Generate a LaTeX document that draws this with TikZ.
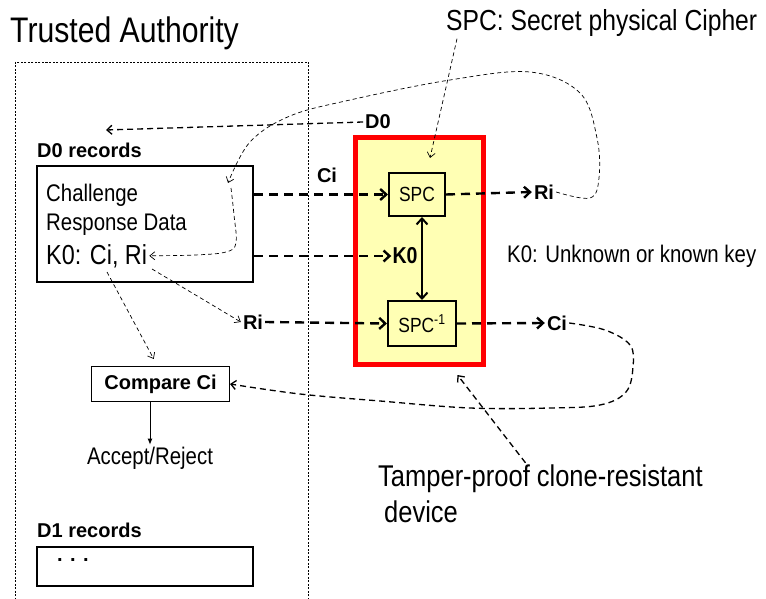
\documentclass[tikz,border=0pt]{standalone}
\usepackage{fontspec}
\setmainfont{Liberation Sans}
\newfontfamily\nar[FakeStretch=0.85]{Liberation Sans}
\usepackage{tikz}
\definecolor{pale}{RGB}{255, 255, 180}
\definecolor{rr}{RGB}{255, 0, 0}
\usetikzlibrary{arrows.meta}

\begin{document}
\begin{tikzpicture}
		[x=1pt,y=-1pt,
		nt/.style={font=\nar\fontsize{24}{29}\selectfont, inner sep=2pt},
		bt/.style={font=\bfseries\fontsize{20}{24}\selectfont, inner sep=2pt},
		box/.style={draw=black, line width=2pt, fill=pale, inner sep=0pt},
		big/.style={line width=2.4pt, dash pattern=on 9pt off 6pt, -{Straight Barb[length=6pt,width=11pt]}},
		mid/.style={line width=1.3pt, dash pattern=on 6pt off 4pt, -{Straight Barb[length=5pt,width=9pt]}},
		thinarr/.style={line width=0.7pt, dash pattern=on 4pt off 3pt, -{Straight Barb[length=5pt,width=8pt]}}]
		\useasboundingbox (0,0) rectangle (766,599);
		\draw [line width=0.8pt, dash pattern=on 2pt off 1.5pt] (15,62) rectangle (308,620);
		\node (1) [nt, font=\nar\fontsize{35.5}{42}\selectfont, anchor=west] at (8,33) {Trusted Authority};
		\node (2) [bt, anchor=west] at (35,150) {D0 records};
		\node (3) [box, fill=none, minimum width=216pt, minimum height=116pt] at (145,224) {};
		\node (4) [nt, anchor=base west] at (44,201) {Challenge};
		\node (5) [nt, anchor=base west] at (44,230) {Response Data};
		\node (6) [nt, font=\nar\fontsize{27.5}{33}\selectfont, anchor=base west] at (44,264) {K0: Ci, Ri};
		\node (9) [draw=rr, line width=5pt, fill=pale, minimum width=128pt, minimum height=227pt, inner sep=0pt] at (419.5,251) {};
		\node (7) [box, minimum width=56pt, minimum height=43pt, nt, font=\nar\fontsize{20.5}{24}\selectfont] at (417,194.5) {SPC};
		\node (8) [box, minimum width=68pt, minimum height=45pt, nt, font=\nar\fontsize{20.5}{24}\selectfont] at (422,323.5) {SPC\textsuperscript{-1}};
		\node (10) [nt, font=\nar\bfseries\fontsize{23}{28}\selectfont, inner sep=1pt] at (405,256) {K0};
		\node (11) [bt] at (327,175) {Ci};
		\node (12) [bt] at (544,192) {Ri};
		\node (13) [bt] at (557,323) {Ci};
		\node (14) [bt] at (253,322) {Ri};
		\node (15) [bt] at (378,122) {D0};
		\node (16) [nt, anchor=west] at (505,256) {K0: Unknown or known key};
		\node (17) [nt, font=\nar\fontsize{29}{35}\selectfont, anchor=west] at (444,23) {SPC: Secret physical Cipher};
		\node (18) [nt, font=\nar\fontsize{30}{36}\selectfont, align=left, anchor=west] at (376,494) {Tamper-proof clone-resistant\\ \hspace*{6pt}device};
		\node (19) [draw=black, line width=1pt, bt, minimum width=138pt, minimum height=35pt, inner sep=0pt] at (160.5,384) {Compare Ci};
		\node (20) [nt] at (150,458) {Accept/Reject};
		\node (21) [bt, anchor=west] at (35,530) {D1 records};
		\node (22) [box, fill=none, minimum width=216pt, minimum height=39pt] at (145,566.5) {};
		\node (23) [bt, anchor=west] at (55,560) {. . .};
		\coordinate (c1) at (106,130);
		\coordinate (c2) at (228,183);
		\coordinate (c3) at (231,188);
		\coordinate (c4) at (107,272);
		\coordinate (c5) at (152,269);
		% device paths
		\draw [big] (3.east |- 7.west) to (7.west);
		\draw [big] (3.east |- 10.west) to (10.west);
		\draw [big] (14.east) to (8.west);
		\draw [big] (7.east) to (12.west);
		\draw [big] (8.east) to (13.west);
		\draw [line width=2pt, {Straight Barb[length=6pt,width=11pt]}-{Straight Barb[length=6pt,width=11pt]}] (8.north |- 7.south) to (8.north);
		% back to the records
		\draw [mid] (15.west) to (c1);
		\draw [thinarr] plot[smooth, tension=0.6] coordinates {(12.east) (590,198) (599,178) (597,138) (580,93) (530,72) (450,80) (350,100) (290,116) (250,142) (c2)};
		\draw [thinarr] plot[smooth, tension=0.6] coordinates {(c3) (234,215) (236,243) (226,252) (195,255) (6.east)};
		\draw [thinarr] (c4) to ([xshift=-3pt]19.north) [shorten >=8pt];
		\draw [thinarr] (c5) to (14.west);
		\draw [mid] plot[smooth, tension=0.6] coordinates {(13.east) (605,330) (630,345) (633,367) (626,392) (600,405) (550,408) (470,408) (380,401) (300,394) (19.east)};
		\draw [-{Latex[length=6pt,width=5pt]}, line width=0.8pt] (19.south -| 20.north) to (20.north);
		% notes
		\draw [thinarr] ([xshift=13pt]17.south west) to ([xshift=13pt,yshift=14pt]7.north);
		\draw [mid] ([xshift=-15pt]18.north) to ([xshift=38pt,yshift=-8pt]9.south);
\end{tikzpicture}
\end{document}
